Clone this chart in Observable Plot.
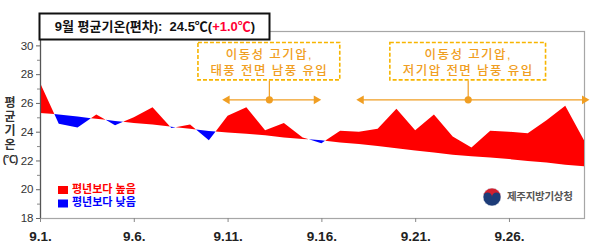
<!DOCTYPE html>
<html>
<head>
<meta charset="utf-8">
<script src="https://cdn.jsdelivr.net/npm/d3@7"></script>
<script src="https://cdn.jsdelivr.net/npm/@observablehq/plot@0.6"></script>
<style>
  body { margin: 0; background: #fff; }
  #chart { position: relative; width: 600px; height: 250px; }
</style>
</head>
<body>
<div id="chart"></div>
<script>
// ---- data ----
const days = [1,2,3,4,5,6,7,8,9,10,11,12,13,14,15,16,17,18,19,20,21,22,23,24,25,26,27,28,29,30];
const actualTemp = [27.4,24.55,24.3,25.2,24.45,25.0,25.7,24.26,24.5,23.4,25.1,25.7,24.1,24.6,23.6,23.2,24.07,24.0,24.2,25.6,24.1,25.2,23.67,22.9,24.07,24.0,23.9,24.8,25.8,23.4];
const normalTemp = [25.3,25.2,25.05,24.9,24.75,24.6,24.5,24.35,24.2,24.05,23.95,23.85,23.75,23.6,23.5,23.4,23.25,23.15,23.0,22.85,22.7,22.55,22.4,22.3,22.2,22.1,21.96,21.85,21.7,21.6];
const xTickDays = [1,6,11,16,21,26];
const xTickLabels = ["9.1.","9.6.","9.11.","9.16.","9.21.","9.26."];
const yTicks = [18,20,22,24,26,28,30];
const yMinorTicks = [19,21,23,25,27,29];
const annoText = ["이동성 고기압,\n태풍 전면 남풍 유입", "이동성 고기압,\n저기압 전면 남풍 유입"];
const annoStart = [10.95, 18.1];
const annoMid = [13.2, 23.8];
const annoEnd = [15.7, 30];
const titleText = ["9월 평균기온(편차):  24.5℃(", "+1.0℃", ")"];
const legendLabels = ["평년보다 높음", "평년보다 낮음"];
const agency = "제주지방기상청";

// ---- derived: insert crossing points so fills split exactly ----
const pts = [];
for (let i = 0; i < days.length; i++) {
  pts.push({day: days[i], a: actualTemp[i], n: normalTemp[i]});
  if (i < days.length - 1) {
    const d0 = actualTemp[i] - normalTemp[i], d1 = actualTemp[i+1] - normalTemp[i+1];
    if (d0 * d1 < 0) {
      const t = d0 / (d0 - d1);
      const n = normalTemp[i] + t * (normalTemp[i+1] - normalTemp[i]);
      pts.push({day: days[i] + t * (days[i+1] - days[i]), a: n, n: n});
    }
  }
}

const FONT = "'Liberation Sans', 'Noto Sans CJK KR', sans-serif";
const ORANGE = "#f09e22";
const BOXSTROKE = "#f7b500";

const annos = annoText.map((t, i) => ({text: t, x1: annoStart[i], xm: annoMid[i], x2: annoEnd[i]}));
const boxHalf = [3.78, 4.15];
const arrowY = 26.25, boxBottom = 27.6, boxTop = 30.2, textY = 28.9;

const chart = Plot.plot({
  width: 600,
  height: 250,
  marginLeft: 40,
  marginRight: 16,
  marginTop: 31,
  marginBottom: 32,
  style: {fontFamily: FONT, background: "#fff", overflow: "visible"},
  x: {domain: [1, 30], axis: null},
  y: {domain: [18, 31], axis: null},
  marks: [
    Plot.frame({stroke: "#a6a6a6", strokeWidth: 1.2}),
    Plot.areaY(pts, {x: "day", y1: "n", y2: d => Math.max(d.a, d.n), fill: "#ff0000", curve: "linear"}),
    Plot.areaY(pts, {x: "day", y1: d => Math.min(d.a, d.n), y2: "n", fill: "#0000ff", curve: "linear"}),
    Plot.ruleX([1], {stroke: "#555", strokeWidth: 1.2}),
    Plot.axisY(yTicks, {label: null, tickSize: 4, tickPadding: 3, fontSize: 11.5, fill: "#333", stroke: "#666"}),
    Plot.axisY(yMinorTicks, {label: null, tickSize: 3, text: null, stroke: "#888"}),
    Plot.axisX(xTickDays, {label: null, tickSize: 4, tickPadding: 9, fontSize: 13.5, fontWeight: "bold", fill: "#222", stroke: "#888",
      tickFormat: d => xTickLabels[xTickDays.indexOf(d)]}),
    // annotation boxes
    Plot.rect(annos, {x1: (d, i) => d.xm - boxHalf[i], x2: (d, i) => d.xm + boxHalf[i], y1: boxBottom, y2: boxTop,
      fill: "#fff", stroke: BOXSTROKE, strokeWidth: 1.6, strokeDasharray: "4,2"}),
    Plot.text(annos, {x: "xm", y: textY, text: "text", fill: ORANGE, fontSize: 12.5, lineHeight: 1.25, fontWeight: 500,
      ariaLabel: "annotation-text"}),
    Plot.link(annos, {x1: "xm", x2: "xm", y1: boxBottom, y2: arrowY, stroke: ORANGE, strokeWidth: 1.2}),
    Plot.link(annos, {x1: "x1", x2: "x2", y1: arrowY, y2: arrowY, stroke: ORANGE, strokeWidth: 1.2}),
    Plot.dot(annos, {x: "x1", y: arrowY, symbol: "triangle", r: 3.2, rotate: -90, fill: ORANGE, stroke: "none"}),
    Plot.dot(annos, {x: "x2", y: arrowY, symbol: "triangle", r: 3.2, rotate: 90, fill: ORANGE, stroke: "none"}),
    Plot.dot(annos, {x: "xm", y: arrowY, r: 3.6, fill: ORANGE, stroke: "none"})
  ]
});
document.getElementById("chart").appendChild(chart);

// widen annotation text spacing like the reference
d3.select(chart).selectAll("g[aria-label='text'] text, g[aria-label='annotation-text'] text").attr("letter-spacing", 1.4);

// ---- decorations: title box, y label, legend, agency logo ----
const svg = d3.select(chart);
const g = svg.append("g").attr("font-family", FONT).attr("text-anchor", "start");

// title box
g.append("rect").attr("x", 39.5).attr("y", 13.5).attr("width", 230).attr("height", 26)
  .attr("fill", "#fff").attr("stroke", "#111").attr("stroke-width", 2);
const tt = g.append("text").attr("x", 155).attr("y", 31).attr("text-anchor", "middle")
  .attr("font-size", 13).attr("font-weight", "bold").attr("fill", "#111");
tt.append("tspan").text(titleText[0]);
tt.append("tspan").attr("fill", "#ff0033").text(titleText[1]);
tt.append("tspan").text(titleText[2]);

// vertical y label
const yl = ["평", "균", "기", "온", "(℃)"];
const ylY = [104, 118, 132, 146, 160];
yl.forEach((c, i) => {
  g.append("text").attr("x", 10).attr("y", ylY[i]).attr("text-anchor", "middle").attr("dominant-baseline", "middle")
    .attr("font-size", c.length > 1 ? 10.5 : 12).attr("font-weight", "bold").attr("fill", "#333")
    .attr("letter-spacing", c.length > 1 ? -1 : 0).text(c);
});

// legend
const legColors = ["#ff0000", "#0000ff"];
legendLabels.forEach((lab, i) => {
  const cy = 190 + i * 13.5;
  g.append("rect").attr("x", 58).attr("y", cy - 4).attr("width", 10).attr("height", 8).attr("fill", legColors[i]);
  g.append("text").attr("x", 72).attr("y", cy).attr("text-anchor", "start").attr("dominant-baseline", "middle")
    .attr("font-size", 11).attr("font-weight", "bold").attr("fill", legColors[i]).text(lab);
});

// agency logo
const lg = g.append("g").attr("transform", "translate(492,197)");
lg.append("circle").attr("r", 9).attr("fill", "#1d3c78");
lg.append("path").attr("d", "M-9,0 A9,9 0 0,1 9,0 A4.5,4.5 0 0,1 0,0 A4.5,4.5 0 0,0 -9,0 Z").attr("fill", "#d2202e");
lg.append("path").attr("d", "M-9,0 A4.5,4.5 0 0,0 0,0 A4.5,4.5 0 0,1 9,0 A9,9 0 0,1 -9,0 Z").attr("fill", "#1d3c78");
lg.append("circle").attr("r", 9).attr("fill", "none").attr("stroke", "#fff").attr("stroke-width", 0.6);
g.append("text").attr("x", 507).attr("y", 197.5).attr("text-anchor", "start").attr("dominant-baseline", "middle")
  .attr("font-size", 10.5).attr("font-weight", "bold").attr("fill", "#555").attr("letter-spacing", -0.3).text(agency);
</script>
</body>
</html>
